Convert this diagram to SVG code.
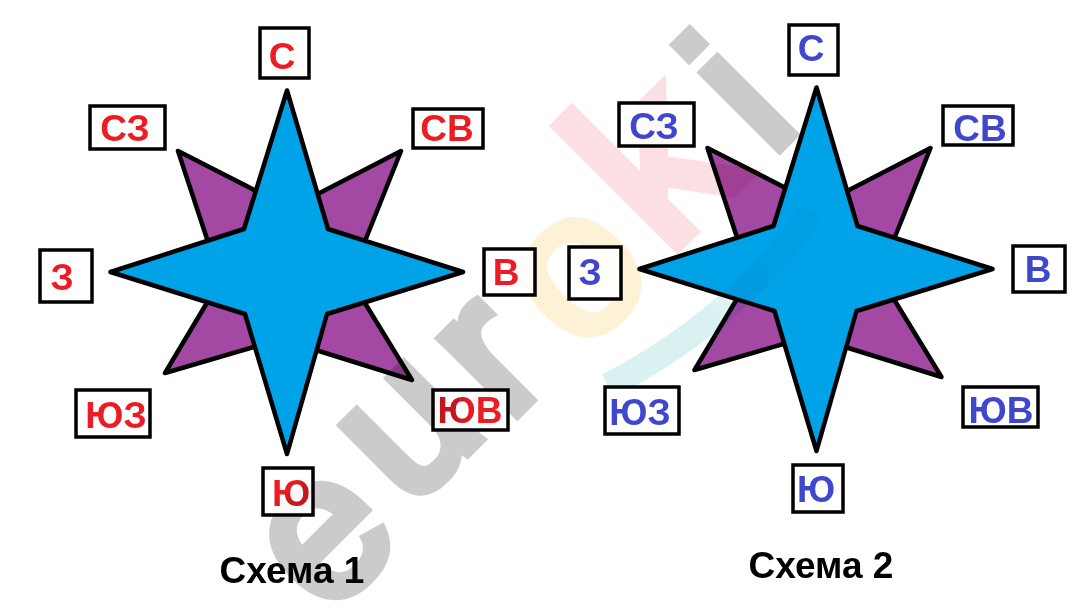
<svg xmlns="http://www.w3.org/2000/svg" width="1079" height="612" viewBox="0 0 1079 612">
<style>
.box{fill:#fff;fill-opacity:.88;stroke:#000;stroke-width:3.500}
.lbl{font:bold 37px "Liberation Sans",Arial,sans-serif;text-anchor:middle}
.r{fill:#ed1c24}.b{fill:#3f48cc}
.pur{fill:#a349a4;stroke:#000;stroke-width:4.500;stroke-linejoin:round}
.blu{fill:#00a2e8;stroke:#000;stroke-width:4.500;stroke-linejoin:round}
.ttl{font:bold 37px "Liberation Sans",Arial,sans-serif;fill:#000;text-anchor:middle}
.wm{mix-blend-mode:multiply}
.wl{font:200px "Liberation Sans",Arial,sans-serif;text-anchor:middle;stroke-width:12;stroke-linejoin:miter;paint-order:stroke}
.g{fill:#cbcbcb;stroke:#cbcbcb}
</style>
<defs>
<linearGradient id="dse" x1="0" y1="0" x2="1" y2="0"><stop offset=".3" stop-color="#c4161e"/><stop offset=".55" stop-color="#ed1c24"/></linearGradient>
<linearGradient id="ds" x1="0" y1="0" x2="1" y2="1"><stop offset=".35" stop-color="#ed1c24"/><stop offset=".65" stop-color="#c4161e"/></linearGradient>
<linearGradient id="teal" gradientUnits="userSpaceOnUse" x1="700" y1="300" x2="770" y2="260"><stop offset="0" stop-color="#daf1f1"/><stop offset="1" stop-color="#f0f9f9"/></linearGradient>
</defs>
<rect width="1079" height="612" fill="#fff"/>
<g id="s1-rose">
<polygon class="pur" points="178,151 266,196 287,272 211,251"/>
<polygon class="pur" points="401,151 308,199 287,272 361,251"/>
<polygon class="pur" points="165,373 264,344 287,272 211,296"/>
<polygon class="pur" points="412,380 306,347 287,272 360,295"/>
<polygon class="blu" points="287,90.500 328,229 463,272 327,314 287,454 245,314 110.500,272 244,229"/>
</g>
<g id="s2-rose">
<polygon class="pur" points="707.500,148 795.500,193 816.500,269 740.500,248"/>
<polygon class="pur" points="930.500,148 837.500,196 816.500,269 890.500,248"/>
<polygon class="pur" points="694.500,370 793.500,341 816.500,269 740.500,293"/>
<polygon class="pur" points="941.500,377 835.500,344 816.500,269 889.500,292"/>
<polygon class="blu" points="816.500,87.500 857.500,226 992.500,269 856.500,311 816.500,451 774.500,311 639.500,269 773.500,226"/>
</g>
<g id="watermark" class="wm">
<text class="wl g" transform="translate(366,578) rotate(-45)">e</text>
<text class="wl g" transform="translate(449,470) rotate(-45)">u</text>
<text class="wl g" transform="translate(531,399) rotate(-45)">r</text>
<text class="wl" fill="#fdf2d5" stroke="#fdf2d5" style="font-size:205px;stroke-width:9" transform="translate(620,316) rotate(-45)">o</text>
<text class="wl" fill="#fbdfe3" stroke="#fbdfe3" style="font-size:235px" transform="translate(708,216) rotate(-45)">k</text>
<text class="wl g" transform="translate(786,141) rotate(-45)">i</text>
<path d="M608,386 Q735,320 812,212" fill="none" stroke="url(#teal)" stroke-width="26"/>
</g>
<g id="s1-n"><rect class="box" x="260" y="28" width="49" height="50"/><text class="lbl r" x="282" y="69">С</text></g>
<g id="s1-nw"><rect class="box" x="90" y="106" width="75" height="43"/><text class="lbl r" x="125" y="141">СЗ</text></g>
<g id="s1-ne"><rect class="box" x="413" y="109" width="70" height="39"/><text class="lbl r" x="447" y="141">СВ</text></g>
<g id="s1-w"><rect class="box" x="40" y="250" width="52" height="52"/><text class="lbl r" x="62" y="290">З</text></g>
<g id="s1-e"><rect class="box" x="484" y="249" width="51" height="46"/><text class="lbl r" x="506" y="285">В</text></g>
<g id="s1-sw"><rect class="box" x="76" y="390" width="74" height="47"/><text class="lbl r" x="116" y="428">ЮЗ</text></g>
<g id="s1-se"><rect class="box" x="433" y="390" width="75" height="40"/><text class="lbl" fill="url(#dse)" x="470" y="423">ЮВ</text></g>
<g id="s1-s"><rect class="box" x="263" y="468" width="50" height="47"/><text class="lbl" fill="url(#ds)" x="291" y="506">Ю</text></g>
<text id="s1-title" class="ttl" x="292" y="583">Схема 1</text>
<g id="s2-n"><rect class="box" x="789" y="25" width="49" height="50"/><text class="lbl b" x="811" y="61">С</text></g>
<g id="s2-nw"><rect class="box" x="619" y="103" width="75" height="43"/><text class="lbl b" x="654" y="139">СЗ</text></g>
<g id="s2-ne"><rect class="box" x="943" y="106" width="70" height="39"/><text class="lbl b" x="980" y="141">СВ</text></g>
<g id="s2-w"><rect class="box" x="569" y="247" width="52" height="52"/><text class="lbl b" x="590" y="285">З</text></g>
<g id="s2-e"><rect class="box" x="1013" y="246" width="52" height="46"/><text class="lbl b" x="1038" y="282">В</text></g>
<g id="s2-sw"><rect class="box" x="605" y="387" width="74" height="47"/><text class="lbl b" x="640" y="425">ЮЗ</text></g>
<g id="s2-se"><rect class="box" x="963" y="387" width="75" height="40"/><text class="lbl b" x="1001" y="423">ЮВ</text></g>
<g id="s2-s"><rect class="box" x="793" y="465" width="50" height="47"/><text class="lbl b" x="816" y="502">Ю</text></g>
<text id="s2-title" class="ttl" x="821" y="578">Схема 2</text>
</svg>
